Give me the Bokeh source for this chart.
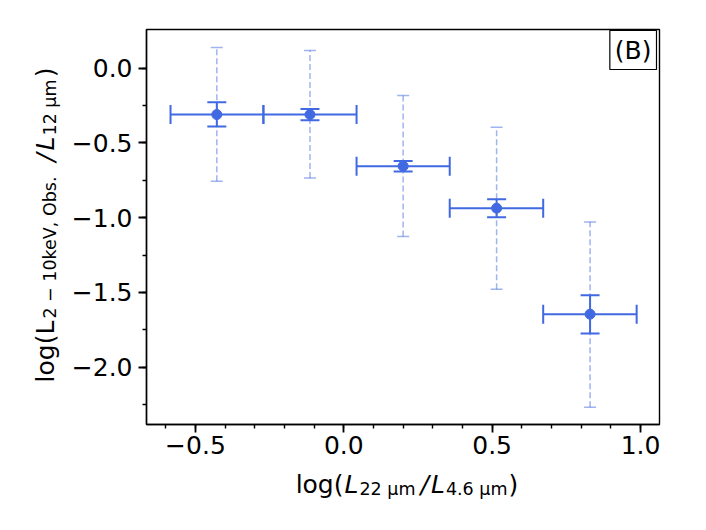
import math
from bokeh.plotting import figure
from bokeh.layouts import row, column
from bokeh.models import Range1d, FixedTicker, Label, Whisker, ColumnDataSource, TeeHead
from bokeh.core.properties import value
from bokeh.embed import file_html
from bokeh.resources import INLINE

# ---------------- data ----------------
x_center = [-0.428, -0.114, 0.200, 0.515, 0.830]
x_low = [-0.584, -0.271, 0.043, 0.357, 0.672]
x_high = [-0.271, 0.043, 0.357, 0.672, 0.987]
y_value = [-0.310, -0.310, -0.655, -0.936, -1.645]
y_err_low = [-0.390, -0.348, -0.691, -0.997, -1.775]
y_err_high = [-0.227, -0.272, -0.620, -0.876, -1.518]
y_spread_low = [-0.756, -0.735, -1.126, -1.478, -2.267]
y_spread_high = [0.138, 0.118, -0.183, -0.394, -1.028]

x_ticks = [-0.5, 0.0, 0.5, 1.0]
x_tick_labels = ["\u22120.5", "0.0", "0.5", "1.0"]
x_minor = [-0.6, -0.5, -0.4, -0.3, -0.2, -0.1, 0.0, 0.1, 0.2, 0.3, 0.4, 0.5, 0.6, 0.7, 0.8, 0.9, 1.0]
y_ticks = [-2.0, -1.5, -1.0, -0.5, 0.0]
y_tick_labels = ["\u22122.0", "\u22121.5", "\u22121.0", "\u22120.5", "0.0"]
y_minor = [-2.25, -2.0, -1.75, -1.5, -1.25, -1.0, -0.75, -0.5, -0.25, 0.0]
panel_tag = "(B)"

# ---------------- layout (page px) ----------------
BLUE = "#4169E1"
FONT = "DejaVu Sans"
TOTAL_W, TOTAL_H = 704, 528
YLAB_W = 66                 # strip holding the rotated y label
MAIN_H = 464                # main figure height; x label strip below
FL, FT, FW, FH = 146, 29, 513, 395
XR = (-0.665, 1.064)
YR = (-2.383, 0.259)
MAIN_W = TOTAL_W - YLAB_W
XLAB_H = TOTAL_H - MAIN_H
BOTTOM = MAIN_H - FT - FH
SX = FW / (XR[1] - XR[0])
SY = FH / (YR[1] - YR[0])
XLAB_BASE = 484             # page y of x-label baseline
YLAB_BASE = 45              # page x of y-label baseline

def dy(page_y):
    return YR[1] - (page_y - FT) / SY

y_range = Range1d(*YR)
p = figure(width=MAIN_W, height=MAIN_H, x_range=Range1d(*XR), y_range=y_range,
           output_backend="svg", toolbar_location=None,
           min_border_left=FL - YLAB_W, min_border_right=MAIN_W - (FL - YLAB_W) - FW,
           min_border_top=FT, min_border_bottom=BOTTOM)
p.xgrid.visible = False
p.ygrid.visible = False
p.background_fill_color = "white"
p.border_fill_color = "white"
p.outline_line_color = "black"
p.outline_line_width = 1.4

for ax, ticks, minor, labels, standoff in ((p.xaxis[0], x_ticks, x_minor, x_tick_labels, 3),
                                           (p.yaxis[0], y_ticks, y_minor, y_tick_labels, 6)):
    ax.ticker = FixedTicker(ticks=ticks, minor_ticks=minor)
    ax.major_label_overrides = {t: l for t, l in zip(ticks, labels)}
    ax.major_label_text_font = FONT
    ax.major_label_text_font_size = "25px"
    ax.major_label_text_color = "black"
    ax.axis_line_color = "black"
    ax.axis_line_width = 1.4
    ax.major_tick_line_color = "black"
    ax.minor_tick_line_color = "black"
    ax.major_tick_line_width = 1.8
    ax.minor_tick_line_width = 1.4
    ax.major_tick_out = 8
    ax.major_tick_in = 0
    ax.minor_tick_out = 4
    ax.minor_tick_in = 0
    ax.major_label_standoff = standoff
    ax.axis_label = None

src = ColumnDataSource(dict(x=x_center, xl=x_low, xh=x_high, y=y_value,
                            yl=y_err_low, yh=y_err_high,
                            ysl=y_spread_low, ysh=y_spread_high))

def tee(size, alpha, width):
    return TeeHead(size=size, line_color=BLUE, line_alpha=alpha, line_width=width)

p.add_layout(Whisker(source=src, base="x", lower="ysl", upper="ysh", dimension="height",
                     line_color=BLUE, line_alpha=0.5, line_width=1.5, line_dash="6 3",
                     lower_head=tee(12, 0.5, 1.5), upper_head=tee(12, 0.5, 1.5)))
p.add_layout(Whisker(source=src, base="y", lower="xl", upper="xh", dimension="width",
                     line_color=BLUE, line_width=2,
                     lower_head=tee(19, 1.0, 2), upper_head=tee(19, 1.0, 2)))
p.add_layout(Whisker(source=src, base="x", lower="yl", upper="yh", dimension="height",
                     line_color=BLUE, line_width=2,
                     lower_head=tee(19, 1.0, 2), upper_head=tee(19, 1.0, 2)))
p.scatter("x", "y", source=src, size=10, color=BLUE, line_color=BLUE)

# panel tag (inside the frame, top right corner)
p.add_layout(Label(x=XR[1] - 3 / SX, y=YR[1] - 1 / SY, text=panel_tag, text_font=FONT,
                   text_font_size="25px", text_color="black",
                   text_align="right", text_baseline="top", padding=5,
                   border_line_color="black", border_line_width=1.2,
                   background_fill_color="white"))

# ---------------- axis labels: text pieces in their own strips ----------------
def strip(w, h, y_rng, top, bottom):
    f = figure(width=w, height=h, x_range=Range1d(0, w), y_range=y_rng,
               output_backend="svg", toolbar_location=None,
               x_axis_type=None, y_axis_type=None, min_border=0,
               min_border_left=0, min_border_right=0,
               min_border_top=top, min_border_bottom=bottom)
    f.xgrid.visible = False
    f.ygrid.visible = False
    f.outline_line_color = None
    f.background_fill_color = "white"
    f.border_fill_color = "white"
    return f

ADV = {'l': 569, 'o': 1253, 'g': 1300, '(': 799, ')': 799, 'L': 1141, ' ': 651,
       '2': 1303, '\u2212': 1716, '1': 1303, '0': 1303, 'k': 1186, 'e': 1260,
       'V': 1401, ',': 651, 'O': 1612, 'b': 1300, 's': 1067, '.': 651, '/': 690,
       '\u03bc': 1318, 'm': 1995, '4': 1303, '6': 1303}

def text_w(s, size):
    return sum(ADV.get(c, 1200) for c in s) / 2048.0 * size

MAIN, SUB = 25, 17.5
# (text, size, italic, subscript, gap before in px)
x_label_parts = [("log(", MAIN, False, False, 0), ("L", MAIN, True, False, 1),
                 ("22 \u03bcm", SUB, False, True, 1), ("/", MAIN, True, False, 5),
                 ("L", MAIN, True, False, 2), ("4.6 \u03bcm", SUB, False, True, 1),
                 (")", MAIN, False, False, 1)]
y_label_parts = [("log(", MAIN, False, False, 0), ("L", MAIN, False, False, 0),
                 ("2 \u2212 10keV, Obs.", SUB, False, True, 2), ("/", MAIN, True, False, 14),
                 ("L", MAIN, True, False, 3), ("12 \u03bcm", SUB, False, True, 1),
                 (")", MAIN, False, False, 2)]

def put(fig, text, size, italic, fx, fy, angle=0.0):
    fig.text(x=[fx], y=[fy], text=[text], angle=angle,
             text_font=value(FONT), text_font_size=f"{size}px",
             text_font_style="italic" if italic else "normal",
             text_color="black", text_align="left", text_baseline="alphabetic")

# x label strip: page x == strip x, strip y = TOTAL_H - page_y
xlab = strip(TOTAL_W, XLAB_H, Range1d(0, XLAB_H), 0, 0)
total = sum(text_w(t, s) + g for t, s, i, sb, g in x_label_parts)
cur = (FL + FW / 2) - total / 2 + 4
for t, s, i, sb, g in x_label_parts:
    cur += g
    put(xlab, t, s, i, cur, TOTAL_H - (XLAB_BASE + (4 if sb else 0)))
    cur += text_w(t, s)

# y label strip: shares the main y range and frame rows; page x == strip x
ylab = strip(YLAB_W, MAIN_H, y_range, FT, BOTTOM)
total = sum(text_w(t, s) + g for t, s, i, sb, g in y_label_parts)
cur = (FT + FH / 2) + total / 2 - 2
for t, s, i, sb, g in y_label_parts:
    cur -= g
    put(ylab, t, s, i, YLAB_BASE + (4 if sb else 0), dy(cur), angle=math.pi / 2)
    cur -= text_w(t, s)

layout = column(row(ylab, p, spacing=0), xlab, spacing=0)
open("out.html", "w").write(file_html(layout, INLINE))
